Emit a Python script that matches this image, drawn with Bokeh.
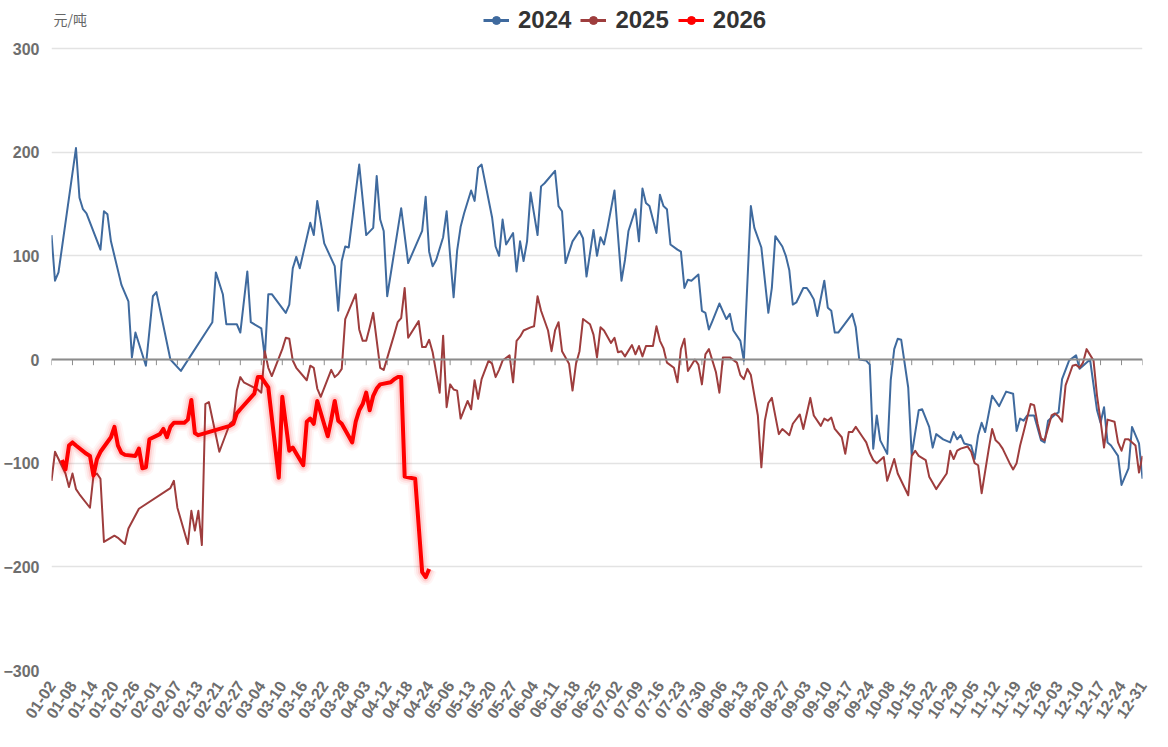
import datetime as dt
from bisect import bisect_left
from bokeh.plotting import figure
from bokeh.models import Range1d, FixedTicker, Span, Legend, LegendItem, Label
from bokeh.embed import file_html
from bokeh.resources import INLINE

# ---------------- category axis (union of trading days, MM-DD) ----------------
TRADING_END = {2024: "12-31", 2025: "12-31", 2026: "04-24"}
HOLIDAYS = {
    2024: ["01-01", "02-09", "02-12", "02-13", "02-14", "02-15", "02-16", "04-04", "04-05",
           "05-01", "05-02", "05-03", "06-10", "09-16", "09-17", "10-01", "10-02", "10-03",
           "10-04", "10-07"],
    2025: ["01-01", "01-28", "01-29", "01-30", "01-31", "02-03", "02-04", "04-04", "05-01",
           "05-02", "05-05", "06-02", "10-01", "10-02", "10-03", "10-06", "10-07", "10-08"],
    2026: ["01-01", "01-02", "02-16", "02-17", "02-18", "02-19", "02-20", "02-23", "04-06"],
}


def trading_days(year):
    d = dt.date(year, 1, 1)
    m, dd = TRADING_END[year].split("-")
    end = dt.date(year, int(m), int(dd))
    out = []
    while d <= end:
        s = d.strftime("%m-%d")
        if d.weekday() < 5 and s not in HOLIDAYS[year]:
            out.append(s)
        d += dt.timedelta(days=1)
    return out


CATEGORIES = sorted(set().union(*(trading_days(y) for y in TRADING_END)))
TICK_STEP = 6
TICK_POS = list(range(0, len(CATEGORIES), TICK_STEP))
TICK_LABELS = [CATEGORIES[i] for i in TICK_POS]
Y_TICKS = [-300, -200, -100, 0, 100, 200, 300]
UNIT = "元/吨"

# ---------------- series (MM-DD, 元/吨) ----------------
S2024 = [
    ("01-02", 120), ("01-03", 76), ("01-04", 84), ("01-09", 204), ("01-10", 156), ("01-11", 145),
    ("01-12", 141), ("01-16", 106), ("01-17", 143), ("01-18", 140), ("01-19", 114), ("01-22", 72),
    ("01-24", 56), ("01-25", 2), ("01-26", 26), ("01-29", -6), ("01-31", 61), ("02-01", 65),
    ("02-05", 0), ("02-08", -11), ("02-19", 36), ("02-20", 84), ("02-22", 63), ("02-23", 34),
    ("02-26", 34), ("02-27", 26), ("02-29", 85), ("03-01", 36), ("03-04", 30), ("03-05", 2),
    ("03-06", 63), ("03-07", 63), ("03-11", 45), ("03-12", 53), ("03-13", 88), ("03-14", 99),
    ("03-15", 88), ("03-18", 132), ("03-19", 120), ("03-20", 153), ("03-22", 112), ("03-25", 90),
    ("03-26", 47), ("03-27", 95), ("03-28", 109), ("03-29", 108), ("04-01", 188), ("04-03", 120),
    ("04-08", 127), ("04-09", 177), ("04-10", 135), ("04-11", 124), ("04-12", 61), ("04-16", 146),
    ("04-18", 93), ("04-22", 124), ("04-23", 157), ("04-24", 104), ("04-25", 90), ("04-26", 96),
    ("04-29", 118), ("04-30", 143), ("05-06", 100), ("05-07", 60), ("05-08", 105), ("05-09", 128),
    ("05-10", 141), ("05-13", 163), ("05-14", 153), ("05-15", 185), ("05-16", 188), ("05-20", 137),
    ("05-21", 109), ("05-22", 100), ("05-23", 135), ("05-24", 111), ("05-27", 122), ("05-28", 85),
    ("05-29", 114), ("05-30", 95), ("05-31", 114), ("06-03", 161), ("06-05", 120), ("06-06", 167),
    ("06-07", 170), ("06-11", 182), ("06-12", 148), ("06-13", 143), ("06-14", 93), ("06-17", 114),
    ("06-19", 124), ("06-20", 117), ("06-21", 80), ("06-24", 125), ("06-25", 100), ("06-26", 118),
    ("06-27", 111), ("06-28", 127), ("07-01", 163), ("07-03", 76), ("07-04", 96), ("07-05", 124),
    ("07-08", 145), ("07-09", 114), ("07-10", 165), ("07-11", 151), ("07-12", 148), ("07-15", 122),
    ("07-16", 159), ("07-17", 148), ("07-18", 145), ("07-19", 111), ("07-22", 106), ("07-23", 104),
    ("07-24", 69), ("07-25", 77), ("07-26", 76), ("07-29", 82), ("07-30", 47), ("07-31", 45),
    ("08-01", 29), ("08-02", 37), ("08-05", 54), ("08-07", 39), ("08-08", 44), ("08-09", 28),
    ("08-12", 18), ("08-13", -1), ("08-15", 148), ("08-16", 127), ("08-19", 108), ("08-21", 45),
    ("08-22", 69), ("08-23", 119), ("08-26", 109), ("08-27", 100), ("08-28", 86), ("08-29", 53),
    ("08-30", 55), ("09-02", 69), ("09-03", 69), ("09-04", 64), ("09-05", 58), ("09-06", 42),
    ("09-09", 76), ("09-10", 50), ("09-11", 47), ("09-12", 26), ("09-13", 26), ("09-18", 44),
    ("09-19", 31), ("09-20", 0), ("09-23", -1), ("09-24", -5), ("09-25", -86), ("09-26", -54),
    ("09-27", -78), ("09-30", -91), ("10-08", -20), ("10-09", 10), ("10-10", 20), ("10-11", 19),
    ("10-14", -27), ("10-15", -92), ("10-17", -49), ("10-18", -48), ("10-21", -65), ("10-22", -85),
    ("10-23", -72), ("10-25", -77), ("10-28", -80), ("10-29", -70), ("10-30", -77), ("10-31", -73),
    ("11-01", -81), ("11-04", -83), ("11-05", -96), ("11-06", -73), ("11-07", -61), ("11-08", -70),
    ("11-11", -35), ("11-13", -45), ("11-15", -31), ("11-18", -33), ("11-19", -69), ("11-20", -57),
    ("11-21", -59), ("11-22", -54), ("11-25", -54), ("11-27", -78), ("11-28", -80), ("11-29", -59),
    ("12-02", -53), ("12-03", -51), ("12-04", -19), ("12-06", -1), ("12-09", 4), ("12-10", -9),
    ("12-11", -6), ("12-13", 0), ("12-16", -49), ("12-17", -61), ("12-18", -46), ("12-19", -80),
    ("12-20", -83), ("12-23", -93), ("12-24", -121), ("12-26", -105), ("12-27", -65), ("12-30", -81),
    ("12-31", -115),
]

S2025 = [
    ("01-02", -117), ("01-03", -89), ("01-06", -110), ("01-07", -123), ("01-08", -110), ("01-09", -125),
    ("01-10", -130), ("01-13", -143), ("01-14", -112), ("01-15", -110), ("01-16", -115), ("01-17", -176),
    ("01-20", -170), ("01-21", -172), ("01-22", -175), ("01-23", -178), ("01-24", -163), ("01-27", -144),
    ("02-05", -124), ("02-06", -117), ("02-07", -143), ("02-10", -178), ("02-11", -146), ("02-12", -165),
    ("02-13", -146), ("02-14", -179), ("02-17", -43), ("02-18", -41), ("02-21", -89), ("02-24", -62),
    ("02-25", -59), ("02-26", -30), ("02-27", -17), ("02-28", -22), ("03-03", -29), ("03-04", -32),
    ("03-05", 8), ("03-06", -8), ("03-07", -16), ("03-10", 10), ("03-11", 21), ("03-12", 20),
    ("03-13", -1), ("03-14", -8), ("03-17", -20), ("03-18", -6), ("03-19", -8), ("03-20", -28),
    ("03-21", -36), ("03-24", -10), ("03-25", -17), ("03-26", -14), ("03-27", -9), ("03-28", 39),
    ("03-31", 63), ("04-01", 29), ("04-02", 18), ("04-03", 18), ("04-07", 31), ("04-08", 45),
    ("04-10", -8), ("04-11", -10), ("04-14", 24), ("04-15", 36), ("04-16", 40), ("04-17", 69),
    ("04-18", 21), ("04-21", 37), ("04-22", 12), ("04-23", 12), ("04-24", 19), ("04-25", 7),
    ("04-28", -32), ("04-29", 23), ("04-30", -46), ("05-06", -24), ("05-07", -29), ("05-08", -30),
    ("05-09", -57), ("05-12", -40), ("05-13", -48), ("05-14", -20), ("05-15", -38), ("05-16", -19),
    ("05-19", -1), ("05-20", -4), ("05-21", -17), ("05-22", -10), ("05-23", -1), ("05-26", 4),
    ("05-27", -22), ("05-28", 18), ("05-29", 22), ("05-30", 28), ("06-03", 31), ("06-04", 32),
    ("06-05", 61), ("06-06", 47), ("06-09", 28), ("06-10", 8), ("06-11", 28), ("06-12", 36),
    ("06-13", 8), ("06-16", -4), ("06-17", -30), ("06-18", -4), ("06-19", 8), ("06-20", 39),
    ("06-23", 34), ("06-24", 24), ("06-25", 2), ("06-26", 31), ("06-27", 28), ("06-30", 16),
    ("07-01", 21), ("07-02", 7), ("07-03", 8), ("07-04", 3), ("07-07", 14), ("07-08", 5),
    ("07-09", 13), ("07-10", 3), ("07-11", 13), ("07-14", 13), ("07-15", 32), ("07-16", 18),
    ("07-17", 11), ("07-18", -3), ("07-21", -8), ("07-22", -22), ("07-23", 10), ("07-24", 20),
    ("07-25", -11), ("07-28", 0), ("07-29", -5), ("07-30", -24), ("07-31", 5), ("08-01", 10),
    ("08-04", -12), ("08-05", -32), ("08-06", 2), ("08-07", 2), ("08-08", 2), ("08-11", -3),
    ("08-12", -15), ("08-13", -19), ("08-14", -9), ("08-15", -15), ("08-18", -54), ("08-19", -104),
    ("08-20", -59), ("08-21", -42), ("08-22", -37), ("08-25", -72), ("08-26", -67), ("08-27", -70),
    ("08-28", -73), ("08-29", -62), ("09-01", -53), ("09-02", -67), ("09-03", -52), ("09-04", -37),
    ("09-05", -54), ("09-08", -64), ("09-09", -57), ("09-10", -59), ("09-11", -56), ("09-12", -67),
    ("09-15", -75), ("09-16", -91), ("09-17", -70), ("09-18", -70), ("09-19", -65), ("09-22", -75),
    ("09-23", -80), ("09-24", -90), ("09-25", -97), ("09-26", -100), ("09-29", -94), ("09-30", -117),
    ("10-09", -96), ("10-10", -110), ("10-13", -124), ("10-14", -131), ("10-15", -93), ("10-16", -88),
    ("10-17", -93), ("10-20", -97), ("10-21", -113), ("10-22", -119), ("10-23", -125), ("10-24", -120),
    ("10-27", -110), ("10-28", -88), ("10-29", -96), ("10-30", -88), ("10-31", -86), ("11-03", -84),
    ("11-04", -89), ("11-05", -100), ("11-06", -102), ("11-07", -129), ("11-10", -87), ("11-11", -67),
    ("11-12", -78), ("11-13", -81), ("11-14", -86), ("11-17", -100), ("11-18", -106), ("11-19", -100),
    ("11-20", -83), ("11-21", -70), ("11-24", -43), ("11-25", -44), ("11-26", -62), ("11-27", -76),
    ("11-28", -78), ("12-01", -54), ("12-02", -52), ("12-03", -55), ("12-04", -60), ("12-05", -25),
    ("12-08", -6), ("12-09", -5), ("12-10", -8), ("12-11", -3), ("12-12", 10), ("12-15", -1),
    ("12-16", -35), ("12-17", -59), ("12-18", -85), ("12-19", -58), ("12-22", -60), ("12-23", -80),
    ("12-24", -88), ("12-25", -77), ("12-26", -77), ("12-29", -83), ("12-30", -109), ("12-31", -93),
]

S2026 = [
    ("01-05", -97), ("01-06", -106), ("01-07", -83), ("01-08", -80), ("01-09", -83), ("01-12", -91),
    ("01-13", -93), ("01-14", -112), ("01-15", -96), ("01-16", -89), ("01-19", -75), ("01-20", -65),
    ("01-21", -83), ("01-22", -90), ("01-23", -92), ("01-26", -93), ("01-27", -86), ("01-28", -105),
    ("01-29", -104), ("01-30", -77), ("02-02", -72), ("02-03", -67), ("02-04", -75), ("02-05", -65),
    ("02-06", -61), ("02-09", -61), ("02-10", -58), ("02-11", -39), ("02-12", -71), ("02-13", -73),
    ("02-24", -64), ("02-25", -62), ("02-26", -52), ("02-27", -48), ("03-02", -33), ("03-03", -17),
    ("03-04", -17), ("03-05", -22), ("03-06", -27), ("03-09", -114), ("03-10", -36), ("03-11", -62),
    ("03-12", -88), ("03-13", -85), ("03-16", -102), ("03-17", -60), ("03-18", -57), ("03-19", -62),
    ("03-20", -40), ("03-23", -74), ("03-24", -58), ("03-25", -40), ("03-26", -59), ("03-27", -62),
    ("03-30", -80), ("03-31", -60), ("04-01", -49), ("04-02", -43), ("04-03", -32), ("04-07", -49),
    ("04-08", -35), ("04-09", -28), ("04-10", -24), ("04-13", -22), ("04-14", -19), ("04-15", -17),
    ("04-16", -17), ("04-17", -113), ("04-20", -115), ("04-22", -205), ("04-23", -210), ("04-24", -202),
]

SERIES_NAMES = ["2024", "2025", "2026"]
SERIES_COLORS = ["#3F6A9E", "#9E3D3D", "#FF0000"]

NUM_FONT = "Liberation Sans"
CJK_FONT = "Noto Sans CJK SC"

# layout (pixels)
W, H = 1152, 731
BORDER_L, BORDER_R, BORDER_T, BORDER_B = 38, 10, 0, 61
HEADER = 48            # space above the 300 gridline (inside the frame) for legend + unit
FRAME_H = H - BORDER_T - BORDER_B
Y_TOP = 300 + HEADER * 600.0 / (FRAME_H - HEADER)
NAN = float("nan")


def pos(d):
    return bisect_left(CATEGORIES, d)


def xy(series):
    return [pos(d) for d, _ in series], [v for _, v in series]


p = figure(
    width=W, height=H,
    min_border_left=BORDER_L, min_border_right=BORDER_R, min_border_top=BORDER_T,
    min_border_bottom=BORDER_B,
    x_range=Range1d(0, len(CATEGORIES) - 1), y_range=Range1d(-300, Y_TOP),
    output_backend="svg", toolbar_location=None, background_fill_color="white",
)
p.outline_line_color = None

# x axis: labels only (axis line drawn on zero)
p.xaxis.ticker = FixedTicker(ticks=TICK_POS)
p.xaxis.major_label_overrides = {t: lab for t, lab in zip(TICK_POS, TICK_LABELS)}
p.xaxis.major_label_orientation = 0.98
p.xaxis.axis_line_color = None
p.xaxis.major_tick_line_color = None
p.xaxis.minor_tick_line_color = None
p.xaxis.major_label_standoff = 6
p.xaxis.major_label_text_font = NUM_FONT
p.xaxis.major_label_text_font_style = "bold"
p.xaxis.major_label_text_font_size = "16px"
p.xaxis.major_label_text_color = "#6E6E6E"

p.yaxis.ticker = FixedTicker(ticks=Y_TICKS)
p.yaxis.axis_line_color = None
p.yaxis.major_tick_line_color = None
p.yaxis.minor_tick_line_color = None
p.yaxis.major_label_standoff = 6
p.yaxis.major_label_text_font = NUM_FONT
p.yaxis.major_label_text_font_style = "bold"
p.yaxis.major_label_text_font_size = "16px"
p.yaxis.major_label_text_color = "#6E6E6E"

p.xgrid.grid_line_color = None
p.ygrid.ticker = FixedTicker(ticks=Y_TICKS)
p.ygrid.grid_line_color = "#E3E3E3"
p.ygrid.grid_line_width = 1.5

# zero axis line with ticks
p.add_layout(Span(location=0, dimension="width", line_color="#8C8C8C", line_width=2))
p.segment(x0=TICK_POS, y0=[0] * len(TICK_POS), x1=TICK_POS, y1=[-5.5] * len(TICK_POS),
          line_color="#8C8C8C", line_width=1)

# series
x24, y24 = xy(S2024)
x25, y25 = xy(S2025)
x26, y26 = xy(S2026)
p.line(x24, y24, line_color=SERIES_COLORS[0], line_width=2, line_join="round")
p.line(x25, y25, line_color=SERIES_COLORS[1], line_width=2, line_join="round")
for w, a in [(16, 0.04), (12, 0.06), (8, 0.10)]:
    p.line(x26, y26, line_color=SERIES_COLORS[2], line_width=w, line_alpha=a, line_join="round")
p.line(x26, y26, line_color=SERIES_COLORS[2], line_width=4, line_join="round")

# legend (line + dot icons), inside the header band of the frame
items = []
for name, col in zip(SERIES_NAMES, SERIES_COLORS):
    lr = p.line([NAN], [NAN], line_color=col, line_width=3)
    mr = p.scatter([NAN], [NAN], marker="circle", size=11, fill_color=col, line_color=col)
    items.append(LegendItem(label=name, renderers=[lr, mr]))
legend = Legend(
    items=items, orientation="horizontal", location=(432, FRAME_H - 34),
    glyph_width=26, glyph_height=20, label_standoff=9, spacing=9, padding=0, margin=0,
    border_line_alpha=0, background_fill_alpha=0,
    label_text_font=NUM_FONT, label_text_font_style="bold", label_text_font_size="24px",
    label_text_color="#333333",
)
p.add_layout(legend)

p.add_layout(Label(x=2, y=FRAME_H - 28, x_units="screen", y_units="screen", text=UNIT,
                   text_font=CJK_FONT, text_font_size="14px", text_color="#666666"))

open("out.html", "w").write(file_html(p, INLINE))
